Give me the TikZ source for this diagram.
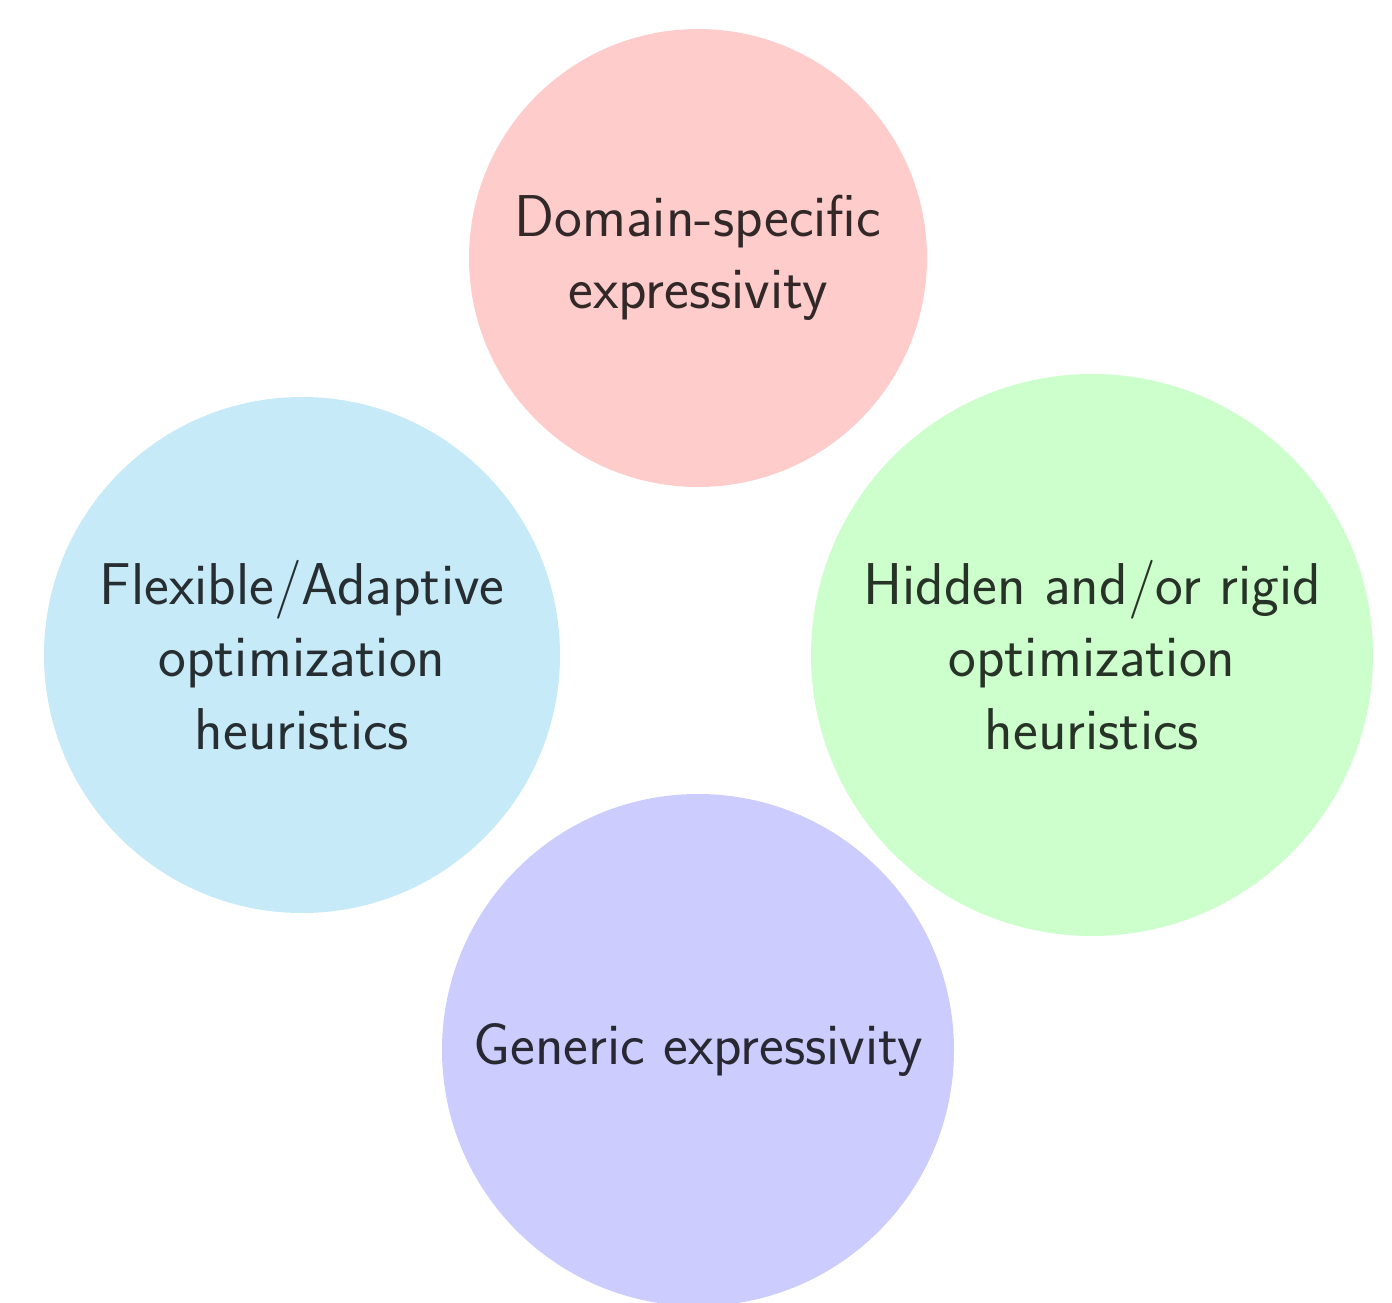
\documentclass[tikz,border=0pt]{standalone}
\usepackage{fontspec}
\definecolor{cred}{RGB}{255,204,204}
\definecolor{cblue}{RGB}{198,234,248}
\definecolor{cgreen}{RGB}{204,255,204}
\definecolor{cpurple}{RGB}{204,204,255}
\tikzset{
  blob/.style={circle, inner sep=0pt, draw=none},
  lbl/.style={align=center, text=black, text opacity=0.8, font=\sffamily\fontsize{59}{72.5}\selectfont}
}
\begin{document}
\begin{tikzpicture}[x=1pt,y=1pt]
\useasboundingbox (0,0) rectangle (1392,-1302);
\clip (0,0) rectangle (1392,-1302);
\node[blob, fill=cred, minimum size=458pt] (dom) at (698,-258) {};
\node[blob, fill=cblue, minimum size=516pt] (flex) at (302,-655) {};
\node[blob, fill=cgreen, minimum size=562pt] (hid) at (1092,-655) {};
\node[blob, fill=cpurple, minimum size=512pt] (gen) at (698,-1050) {};
\node[lbl] (domt) at (dom.center) {Domain-specific\\expressivity};
\node[lbl] (flext) at (flex.center) {Flexible/Adaptive\\optimization\\heuristics};
\node[lbl] (hidt) at (hid.center) {Hidden and/or rigid\\optimization\\heuristics};
\node[lbl] (gent) at (gen.center) {Generic expressivity};
\end{tikzpicture}
\end{document}
